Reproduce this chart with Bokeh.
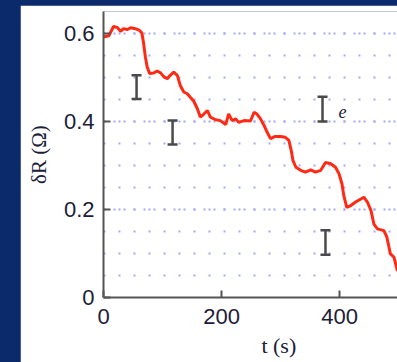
from bokeh.plotting import figure
from bokeh.models import (ColumnDataSource, Whisker, TeeHead, FixedTicker,
                          Range1d, LinearAxis)
from bokeh.core.properties import value
from bokeh.embed import file_html
from bokeh.resources import INLINE

# ---- data ----
t_s = [0, 9, 17, 23, 29, 34, 40, 46, 54, 61,
       65, 68, 71, 74, 78, 85, 91, 97, 102, 108,
       113, 119, 125, 130, 136, 142, 147, 153, 159, 164,
       170, 176, 181, 190, 198, 207, 212, 218, 224, 229,
       238, 249, 255, 260, 266, 272, 277, 283, 291, 300,
       308, 314, 318, 321, 326, 334, 342, 351, 359, 368,
       376, 385, 393, 399, 404, 407, 412, 419, 427, 436,
       441, 447, 453, 458, 464, 475, 480, 486, 492, 498]
dR_ohm = [0.592, 0.595, 0.616, 0.614, 0.605, 0.611, 0.609, 0.613, 0.611, 0.607,
          0.601, 0.577, 0.546, 0.524, 0.509, 0.510, 0.515, 0.510, 0.502, 0.497,
          0.505, 0.512, 0.505, 0.482, 0.467, 0.463, 0.455, 0.446, 0.429, 0.410,
          0.417, 0.425, 0.410, 0.404, 0.402, 0.393, 0.417, 0.402, 0.406, 0.398,
          0.402, 0.401, 0.421, 0.417, 0.406, 0.391, 0.376, 0.361, 0.366, 0.366,
          0.364, 0.357, 0.334, 0.311, 0.296, 0.289, 0.285, 0.290, 0.285, 0.289,
          0.307, 0.304, 0.296, 0.281, 0.258, 0.232, 0.205, 0.209, 0.217, 0.224,
          0.228, 0.217, 0.198, 0.167, 0.156, 0.152, 0.137, 0.099, 0.092, 0.060]

# step-size error bars (centre, half height)
err_t = [56, 117, 371, 376]
err_mid = [0.478, 0.375, 0.428, 0.125]
err_half = [0.027, 0.027, 0.028, 0.028]

x_ticks = [0, 200, 400]
y_ticks = [0, 0.2, 0.4, 0.6]
panel_letter = "e"
letter_t, letter_v = 398, 0.423
x_title = "t (s)"
x_title_t = 297

BG = "#0b2a6b"
INK = "#1c2038"
AX = "#555555"

p = figure(width=377, height=357, output_backend="svg", toolbar_location=None,
           x_range=Range1d(0, 498), y_range=Range1d(0, 0.65),
           min_border_left=83, min_border_right=0, min_border_top=6,
           min_border_bottom=65, outline_line_color=None,
           background_fill_color="white", border_fill_color="white",
           margin=(5, 0, 0, 20))

# grid: dotted horizontal lines
p.xgrid.grid_line_color = None
p.ygrid.grid_line_color = "#a4a8f4"
p.ygrid.grid_line_width = 2
p.ygrid.grid_line_dash = "2 8"
p.ygrid.minor_grid_line_color = "#a4a8f4"
p.ygrid.minor_grid_line_width = 2
p.ygrid.minor_grid_line_dash = "2 13"

p.yaxis.ticker = FixedTicker(ticks=y_ticks, minor_ticks=[i * 0.05 for i in range(1, 14)])
p.xaxis.ticker = FixedTicker(ticks=x_ticks)

for ax in (p.xaxis[0], p.yaxis[0]):
    ax.axis_line_color = AX
    ax.axis_line_width = 2
    ax.major_tick_line_color = AX
    ax.major_tick_line_width = 2
    ax.major_tick_in = 7
    ax.major_tick_out = 0
    ax.minor_tick_line_color = None
    ax.major_label_text_font = "Liberation Sans"
    ax.major_label_text_font_size = "22px"
    ax.major_label_text_color = INK

p.xaxis.major_label_standoff = 11
p.yaxis.major_label_standoff = 5

p.yaxis.axis_label = "δR (Ω)"
p.yaxis.axis_label_text_font = "Liberation Serif"
p.yaxis.axis_label_text_font_style = "normal"
p.yaxis.axis_label_text_font_size = "21px"
p.yaxis.axis_label_text_color = INK
p.yaxis.axis_label_standoff = 10

# x axis title drawn as a second, line-less axis whose label sits below the first
ax2 = LinearAxis(ticker=FixedTicker(ticks=[x_title_t]),
                 major_label_overrides={x_title_t: x_title},
                 axis_line_color=None, major_tick_line_color=None,
                 minor_tick_line_color=None, major_label_standoff=0,
                 major_label_text_font="Liberation Serif",
                 major_label_text_font_size="22px",
                 major_label_text_color=INK)
p.add_layout(ax2, "below")

# red trace
src = ColumnDataSource(dict(t=t_s, v=dR_ohm))
p.line("t", "v", source=src, line_color="#ff2a14", line_width=3)

# error bars
esrc = ColumnDataSource(dict(
    t=err_t,
    lo=[m - h for m, h in zip(err_mid, err_half)],
    hi=[m + h for m, h in zip(err_mid, err_half)]))
w = Whisker(source=esrc, base="t", lower="lo", upper="hi", dimension="height",
            line_color="#4a4a4a", line_width=2.5,
            upper_head=TeeHead(size=10, line_color="#4a4a4a", line_width=2.5),
            lower_head=TeeHead(size=10, line_color="#4a4a4a", line_width=2.5))
p.add_layout(w)

# panel letter
p.text(x=[letter_t], y=[letter_v], text=[panel_letter],
       text_font=value("Liberation Serif"), text_font_style="italic",
       text_font_size="18px", text_color=INK, text_baseline="middle",
       text_align="left")

html = file_html(p, INLINE)
html = html.replace("</head>",
                    "<style>html, body { background-color: %s; margin: 0; padding: 0; }</style></head>" % BG, 1)
open("out.html", "w").write(html)
